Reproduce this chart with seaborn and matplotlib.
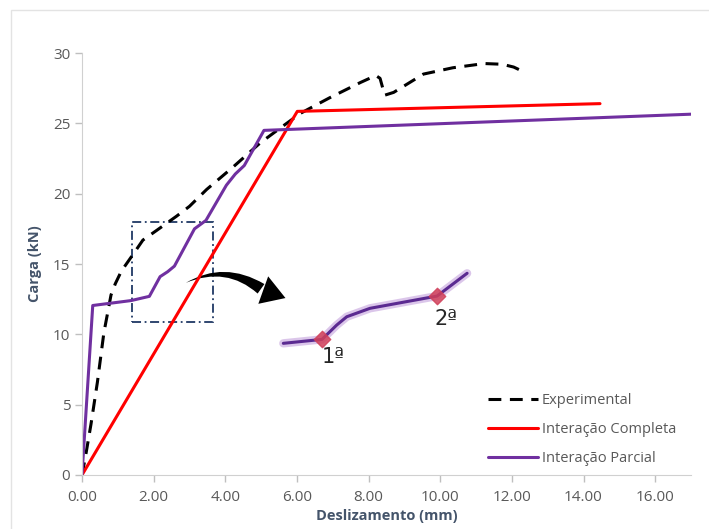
import matplotlib
matplotlib.use("Agg")
import matplotlib.pyplot as plt
import numpy as np
import pandas as pd
import seaborn as sns
from matplotlib.patches import Rectangle, FancyArrowPatch

# --- data ---
exp_x = [0, 0.10, 0.25, 0.43, 0.61, 0.81, 0.93, 1.10, 1.43, 1.70, 2.09, 2.64, 3.00,
         3.48, 4.22, 4.97, 5.50, 6.09, 6.90, 7.77, 8.20, 8.32, 8.45, 8.70, 9.53,
         10.35, 11.23, 11.73, 12.05, 12.30]
exp_y = [0, 1.35, 3.6, 6.6, 10.1, 12.8, 13.6, 14.5, 15.7, 16.7, 17.4, 18.4, 19.1,
         20.3, 21.9, 23.6, 24.6, 25.7, 26.8, 27.9, 28.4, 28.2, 27.0, 27.2, 28.5,
         28.95, 29.25, 29.2, 29.0, 28.7]

full_x = [0, 6.01, 14.46]
full_y = [0, 25.85, 26.4]

part_x = [0, 0.30, 1.37, 1.88, 2.18, 2.39, 2.58, 3.14, 3.46, 4.03, 4.28, 4.53, 5.08, 17.0]
part_y = [0, 12.05, 12.4, 12.7, 14.1, 14.45, 14.85, 17.5, 18.1, 20.6, 21.4, 22.0, 24.5, 25.65]

# zoomed detail (drawn as a picture inside the chart)
zoom_x = [5.62, 6.70, 7.11, 7.39, 8.04, 9.91, 10.75]
zoom_y = [9.36, 9.64, 10.66, 11.25, 11.85, 12.72, 14.34]
stage_x = [6.70, 9.91]
stage_y = [9.64, 12.72]
stage_labels = ["1ª", "2ª"]

labels = ["Experimental", "Interação Completa", "Interação Parcial"]

df = pd.concat([
    pd.DataFrame({"x": exp_x, "y": exp_y, "serie": labels[0]}),
    pd.DataFrame({"x": full_x, "y": full_y, "serie": labels[1]}),
    pd.DataFrame({"x": part_x, "y": part_y, "serie": labels[2]}),
])

sns.set_style("white")
plt.rcParams["font.family"] = ["Open Sans", "DejaVu Sans"]

fig = plt.figure(figsize=(7.09, 5.29), dpi=100)
ax = fig.add_axes([82 / 709, 1 - 475 / 529, 609 / 709, 422 / 529])

palette = {labels[0]: "black", labels[1]: "#FF0000", labels[2]: "#7030A0"}
sns.lineplot(data=df, x="x", y="y", hue="serie", style="serie", sort=False,
             palette=palette, dashes={labels[0]: (4.2, 2.8), labels[1]: "", labels[2]: ""},
             linewidth=2.2, ax=ax, estimator=None)

# dash-dot zoom window
ax.add_patch(Rectangle((1.40, 10.85), 2.27, 7.13, fill=False, ec="#1F3864",
                       lw=1.3, ls=(0, (5, 2, 1, 2))))

# curved arrow: tapered body (wide near the head) plus a big triangular head
body = FancyArrowPatch((5.06, 13.12), (2.83, 13.57), connectionstyle="arc3,rad=0.32",
                       arrowstyle="wedge,tail_width=0.42,shrink_factor=0.45",
                       color="black", mutation_scale=20, lw=0)
ax.add_patch(body)
ax.annotate("", xy=(5.68, 12.58), xytext=(5.0, 13.2),
            arrowprops=dict(arrowstyle="-|>,head_length=1.7,head_width=1.05",
                            color="black", lw=0, shrinkA=0, shrinkB=0))

# zoomed picture of the partial interaction curve
ax.plot(zoom_x, zoom_y, color="#B98FD6", lw=6, alpha=0.5, solid_capstyle="round")
ax.plot(zoom_x, zoom_y, color="#5B2A91", lw=2.2)
ax.scatter(stage_x, stage_y, marker="D", s=70, color="#D0405A", alpha=0.85, zorder=5)
ax.text(stage_x[0] + 0.32, stage_y[0] - 1.7, stage_labels[0], fontsize=15, ha="center",
        family=["DejaVu Sans"])
ax.text(stage_x[1] + 0.25, stage_y[1] - 2.05, stage_labels[1], fontsize=15, ha="center",
        family=["DejaVu Sans"])

ax.set_xlim(0, 17)
ax.set_ylim(0, 30)
ax.set_xticks(np.arange(0, 17, 2))
ax.set_xticklabels([f"{v:.2f}" for v in np.arange(0, 17, 2)])
ax.set_yticks(np.arange(0, 31, 5))

tick_col = "#595959"
ax.tick_params(axis="both", colors="#BFBFBF", labelcolor=tick_col, labelsize=11,
               direction="out", length=5, width=1, bottom=True, left=True)
ax.tick_params(axis="x", pad=6)
for s in ["top", "right"]:
    ax.spines[s].set_visible(False)
for s in ["left", "bottom"]:
    ax.spines[s].set_color("#D0D0D0")

ax.set_xlabel("Deslizamento (mm)", fontsize=10.5, fontweight="bold", color="#44546A", labelpad=3)
ax.set_ylabel("Carga (kN)", fontsize=10.5, fontweight="bold", color="#44546A", labelpad=8)

leg = ax.legend(loc="upper left", bbox_to_anchor=(0.645, 0.225), frameon=False,
                fontsize=10.5, handlelength=3.4, labelspacing=0.95, handletextpad=0.3)
for t in leg.get_texts():
    t.set_color(tick_col)

fig.patches.append(Rectangle((11 / 709, -0.01), 1.0, 1 - 10 / 529 + 0.01,
                             transform=fig.transFigure, fill=False, ec="#E3E3E3", lw=1))

fig.savefig("out.png", dpi=100)
